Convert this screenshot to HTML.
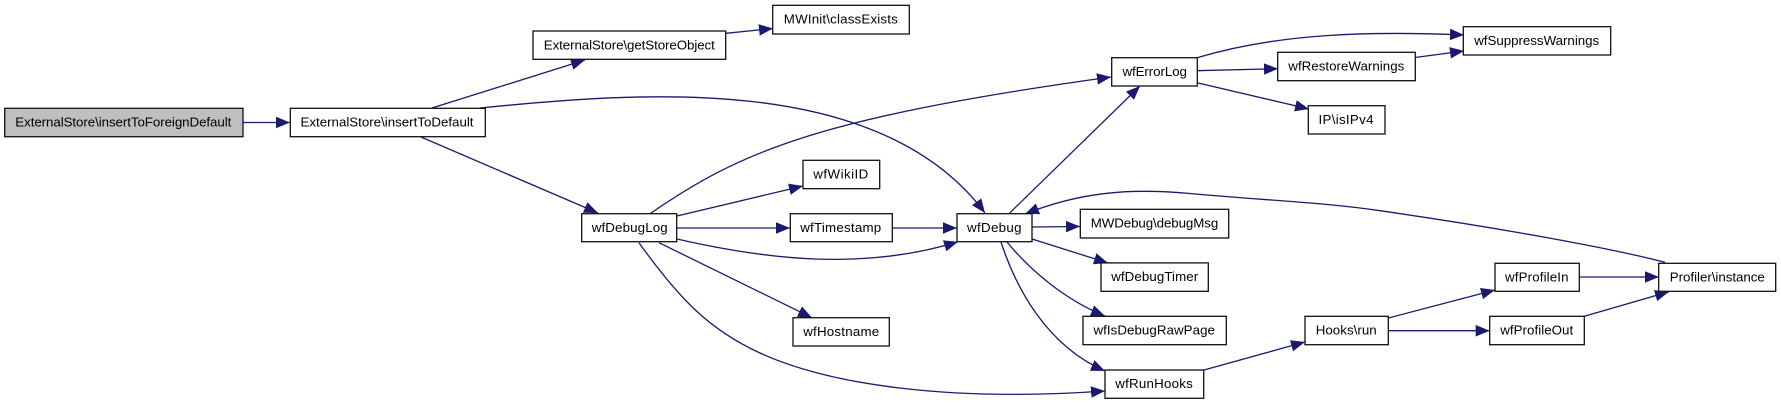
<!DOCTYPE html>
<html><head><meta charset="utf-8"><style>
html,body{margin:0;padding:0;background:#fff;width:1781px;height:404px;overflow:hidden}
svg{display:block}
rect{fill:#fff;stroke:#111;stroke-width:1.3}
path{fill:none;stroke:#191970;stroke-width:1.3}
text{font-family:"Liberation Sans",sans-serif;font-size:13.33px;text-anchor:middle;fill:#000}
</style></head><body>
<svg xmlns="http://www.w3.org/2000/svg" width="1781" height="404" viewBox="0 0 1781 404">
<defs><marker id="a" markerUnits="userSpaceOnUse" markerWidth="15" markerHeight="12" refX="14" refY="5.75" orient="auto"><polygon points="0,0 14,5.75 0,11.5" fill="#191970"/></marker></defs>
<g>
<path marker-end="url(#a)" d="M243,122.5L290,122.5"/>
<path marker-end="url(#a)" d="M432,108L585,60"/>
<path marker-end="url(#a)" d="M480,108C640,92 880,72 985,213"/>
<path marker-end="url(#a)" d="M421,137L598,213"/>
<path marker-end="url(#a)" d="M650,213.7C740,152 815,118 1111,77"/>
<path marker-end="url(#a)" d="M677,216L803,186"/>
<path marker-end="url(#a)" d="M677,228L790,228"/>
<path marker-end="url(#a)" d="M892.5,228L957,228"/>
<path marker-end="url(#a)" d="M677,239C760,258 860,272 958,241.7"/>
<path marker-end="url(#a)" d="M659,242.7L812,317.7"/>
<path marker-end="url(#a)" d="M639,242.7C680,300 710,330 760,353C830,385 950,402 1105,391"/>
<path marker-end="url(#a)" d="M1009,213.7L1140,86"/>
<path marker-end="url(#a)" d="M1032,227L1080,226.5"/>
<path marker-end="url(#a)" d="M1032,239L1108,263"/>
<path marker-end="url(#a)" d="M1007,242C1030,270 1065,300 1105,316"/>
<path marker-end="url(#a)" d="M1001,242C1015,285 1045,345 1105,371"/>
<path marker-end="url(#a)" d="M1665,262.3C1610,248 1500,228 1380,210.7C1320,202 1260,200 1190,193.5C1130,188 1080,192 1025,214"/>
<path marker-end="url(#a)" d="M1197,57.7C1280,33 1370,31 1464,35"/>
<path marker-end="url(#a)" d="M1197,70.7L1278,68.7"/>
<path marker-end="url(#a)" d="M1197,82.7L1309,109"/>
<path marker-end="url(#a)" d="M1415,57.5L1464,51"/>
<path marker-end="url(#a)" d="M726,33.3L773,28.5"/>
<path marker-end="url(#a)" d="M1204,370L1305,342"/>
<path marker-end="url(#a)" d="M1388.5,318L1495,290"/>
<path marker-end="url(#a)" d="M1388.5,330.7L1489.7,330.7"/>
<path marker-end="url(#a)" d="M1579.3,277L1659,277"/>
<path marker-end="url(#a)" d="M1584.3,316.3L1669,291.7"/>
</g>
<rect x="4.7" y="108.3" width="238.3" height="28.4" style="fill:#bfbfbf"/><text x="123.3" y="126.5" textLength="216">ExternalStore\insertToForeignDefault</text>
<rect x="290.3" y="108.3" width="195" height="28.4"/><text x="387" y="126.5" textLength="173">ExternalStore\insertToDefault</text>
<rect x="533" y="31" width="192.7" height="28.3"/><text x="629.3" y="49.3" textLength="171">ExternalStore\getStoreObject</text>
<rect x="772.7" y="5.3" width="136.6" height="28.7"/><text x="840.8" y="23.5" textLength="114">MWInit\classExists</text>
<rect x="581.7" y="213.7" width="95" height="28"/><text x="629.7" y="232" textLength="76">wfDebugLog</text>
<rect x="803" y="160.3" width="76.7" height="28.4"/><text x="840.8" y="178.5" textLength="55">wfWikiID</text>
<rect x="790.3" y="213.7" width="102" height="28"/><text x="840.7" y="232" textLength="81">wfTimestamp</text>
<rect x="793" y="317.7" width="96.3" height="28.3"/><text x="841.2" y="336" textLength="76">wfHostname</text>
<rect x="957" y="213.7" width="75" height="28"/><text x="994.3" y="232" textLength="54.5">wfDebug</text>
<rect x="1111.7" y="57.7" width="85.6" height="28.3"/><text x="1154.7" y="76" textLength="64.5">wfErrorLog</text>
<rect x="1277.7" y="52.3" width="137.6" height="28.4"/><text x="1346.3" y="70.5" textLength="116">wfRestoreWarnings</text>
<rect x="1308.3" y="105.7" width="76.7" height="28.3"/><text x="1346" y="124" textLength="55">IP\isIPv4</text>
<rect x="1463.3" y="26.7" width="147.4" height="28.3"/><text x="1536.7" y="45" textLength="125">wfSuppressWarnings</text>
<rect x="1080.3" y="209.3" width="148.4" height="28.7"/><text x="1154.5" y="227.5" textLength="127.5">MWDebug\debugMsg</text>
<rect x="1101" y="262.9" width="107.3" height="28.4"/><text x="1154.7" y="281" textLength="87">wfDebugTimer</text>
<rect x="1083" y="316.3" width="143.3" height="28.4"/><text x="1154.2" y="334.5" textLength="121.5">wfIsDebugRawPage</text>
<rect x="1105" y="370" width="98.7" height="28.3"/><text x="1154" y="388" textLength="77.5">wfRunHooks</text>
<rect x="1305" y="316.3" width="83.3" height="28.4"/><text x="1346.2" y="334.5" textLength="61">Hooks\run</text>
<rect x="1495" y="263.3" width="84.3" height="28"/><text x="1536.8" y="281.3" textLength="63.5">wfProfileIn</text>
<rect x="1489.7" y="316.3" width="94.6" height="28.4"/><text x="1536.7" y="334.5" textLength="73">wfProfileOut</text>
<rect x="1658.7" y="263.3" width="117" height="28"/><text x="1717.3" y="281.3" textLength="95">Profiler\instance</text>
</svg>
</body></html>
